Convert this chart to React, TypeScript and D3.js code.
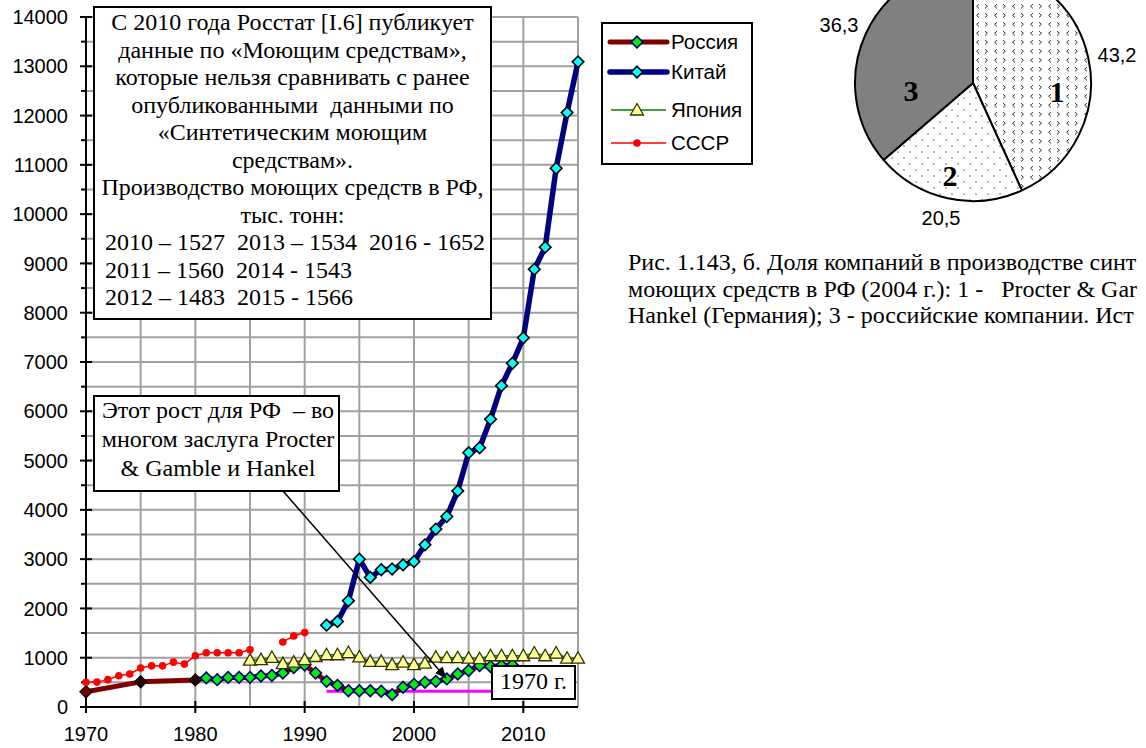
import React from 'react';
import * as d3 from 'd3';

const W = 1146;
const H = 748;

// ---- data ----
const russiaEarlyYears = [1970, 1975, 1980];
const russiaEarlyValues = [310, 510, 550];
const russiaYears = [1981, 1982, 1983, 1984, 1985, 1986, 1987, 1988, 1989, 1990, 1991, 1992, 1993, 1994, 1995, 1996, 1997, 1998, 1999, 2000, 2001, 2002, 2003, 2004, 2005, 2006, 2007, 2008, 2009];
const russiaValues = [590, 555, 600, 600, 600, 630, 640, 690, 800, 850, 690, 520, 440, 330, 330, 330, 320, 250, 400, 460, 500, 520, 570, 670, 740, 840, 820, 840, 850];
const chinaYears = [1992, 1993, 1994, 1995, 1996, 1997, 1998, 1999, 2000, 2001, 2002, 2003, 2004, 2005, 2006, 2007, 2008, 2009, 2010, 2011, 2012, 2013, 2014, 2015];
const chinaValues = [1660, 1735, 2155, 3000, 2630, 2785, 2800, 2885, 2950, 3290, 3610, 3865, 4385, 5160, 5260, 5840, 6520, 6975, 7490, 8880, 9330, 10930, 12060, 13090];
const japanYears = [1985, 1986, 1987, 1988, 1989, 1990, 1991, 1992, 1993, 1994, 1995, 1996, 1997, 1998, 1999, 2000, 2001, 2002, 2003, 2004, 2005, 2006, 2007, 2008, 2009, 2010, 2011, 2012, 2013, 2014, 2015];
const japanValues = [950, 960, 1005, 880, 910, 960, 1025, 1060, 1060, 1105, 1015, 925, 925, 860, 910, 860, 890, 1010, 1000, 1000, 990, 980, 1040, 1040, 1040, 1040, 1095, 1040, 1095, 990, 990];
const ussrYears = [1970, 1971, 1972, 1973, 1974, 1975, 1976, 1977, 1978, 1979, 1980, 1981, 1982, 1983, 1984, 1985, 1986, 1987, 1988, 1989, 1990];
const ussrValues: (number | null)[] = [500, 505, 555, 635, 670, 790, 835, 835, 910, 870, 1040, 1100, 1100, 1100, 1100, 1160, null, null, 1320, 1440, 1510];
const refYears = [1992, 2009];
const refValues = [320, 320];

const xTickValues = [1970, 1980, 1990, 2000, 2010];
const yTickValues = [0, 1000, 2000, 3000, 4000, 5000, 6000, 7000, 8000, 9000, 10000, 11000, 12000, 13000, 14000];
const legendNames = ['Россия', 'Китай', 'Япония', 'СССР'];

const pieNames = ['1', '2', '3'];
const pieValues = [43.2, 20.5, 36.3];
const pieValueLabels = ['43,2', '20,5', '36,3'];

const noteLines = [
  'С 2010 года Росстат [I.6] публикует',
  'данные по «Моющим средствам»,',
  'которые нельзя сравнивать с ранее',
  'опубликованными  данными по',
  '«Синтетическим моющим',
  'средствам».',
  'Производство моющих средств в РФ,',
  'тыс. тонн:',
];
const noteTableLines = [
  '2010 – 1527  2013 – 1534  2016 - 1652',
  '2011 – 1560  2014 - 1543',
  '2012 – 1483  2015 - 1566',
];
const growthLines = ['Этот рост для РФ  – во', 'многом заслуга Procter', '& Gamble и Hankel'];
const refLabel = '1970 г.';
const captionLines = [
  'Рис. 1.143, б. Доля компаний в производстве синт',
  'моющих средств в РФ (2004 г.): 1 -   Procter & Gar',
  'Hankel (Германия); 3 - российские компании. Ист',
];

const SANS = '"Liberation Sans", Arial, sans-serif';
const SERIF = '"Liberation Serif", "Times New Roman", serif';

const diamond = (s: number) => `M0,${-s}L${s},0L0,${s}L${-s},0Z`;
const triangle = 'M0,-6.5L6.5,5L-6.5,5Z';

export default function App() {
  const x = d3.scaleLinear().domain([1970, 2015]).range([86, 578]);
  const y = d3.scaleLinear().domain([0, 14000]).range([707, 17]);

  const vGrid = d3.range(1975, 2016, 5);
  const hGrid = d3.range(500, 14001, 500);

  const lineGen = d3
    .line<[number, number | null]>()
    .defined((d) => d[1] !== null)
    .x((d) => x(d[0]))
    .y((d) => y(d[1] as number));

  const russiaAllYears = [...russiaEarlyYears, ...russiaYears];
  const russiaAllValues = [...russiaEarlyValues, ...russiaValues];
  const zip = (a: number[], b: (number | null)[]) => a.map((v, i) => [v, b[i]] as [number, number | null]);

  const pie = d3.pie<number>().sort(null).value((d) => d)(pieValues);
  const pcx = 973;
  const pcy = 83;
  const pr = 118;
  const arc = d3.arc<d3.PieArcDatum<number>>().innerRadius(0).outerRadius(pr);
  const pieFills = ['url(#chev)', 'url(#dots)', '#808080'];
  const pieNamePos = [
    [1057, 102],
    [950, 186],
    [911, 101],
  ];
  const pieValuePos = [
    [1117, 62],
    [941, 225],
    [839, 32],
  ];

  return (
    <svg width={W} height={H} style={{ position: 'absolute', left: 0, top: 0, background: '#fff' }}>
      <defs>
        <pattern id="chev" width="18" height="9" patternUnits="userSpaceOnUse">
          <rect width="18" height="9" fill="#fff" />
          <path d="M6,2.2L3.6,4.3L6,6.4" fill="none" stroke="#333" strokeWidth="1" />
          <path d="M12,2.2L14.4,4.3L12,6.4" fill="none" stroke="#333" strokeWidth="1" />
        </pattern>
        <pattern id="dots" width="12" height="12" patternUnits="userSpaceOnUse">
          <rect width="12" height="12" fill="#fff" />
          <circle cx="3" cy="3" r="0.9" fill="#999" />
          <circle cx="9" cy="9" r="0.9" fill="#999" />
        </pattern>
        <marker id="arrowHead" viewBox="0 0 12 10" refX="11" refY="5" markerWidth="12" markerHeight="10" markerUnits="userSpaceOnUse" orient="auto">
          <path d="M0,0L12,5L0,10Z" fill="#000" />
        </marker>
      </defs>

      {/* grid */}
      <g stroke="#a0a0a0" strokeWidth={2}>
        {vGrid.map((v) => (
          <line key={'v' + v} x1={x(v)} x2={x(v)} y1={y(0)} y2={y(14000)} />
        ))}
        {hGrid.map((v) => (
          <line key={'h' + v} x1={x(1970)} x2={x(2015)} y1={y(v)} y2={y(v)} />
        ))}
      </g>

      {/* axes */}
      <g stroke="#000" strokeWidth={2}>
        <line x1={x(1970)} x2={x(1970)} y1={y(14000)} y2={y(0) + 1} />
        <line x1={x(1970) - 1} x2={x(2015)} y1={y(0)} y2={y(0)} />
        {yTickValues.map((v) => (
          <line key={'yt' + v} x1={x(1970) - 6} x2={x(1970) + 6} y1={y(v)} y2={y(v)} />
        ))}
        {yTickValues.slice(0, -1).map((v) => (
          <line key={'ym' + v} x1={x(1970) - 5} x2={x(1970)} y1={y(v + 500)} y2={y(v + 500)} />
        ))}
        {xTickValues.map((v) => (
          <line key={'xt' + v} x1={x(v)} x2={x(v)} y1={y(0) - 6} y2={y(0) + 6} />
        ))}
      </g>
      <g fontFamily={SANS} fontSize={20} fill="#000">
        {yTickValues.map((v) => (
          <text key={'yl' + v} x={68} y={y(v)} dy="0.36em" textAnchor="end">
            {v}
          </text>
        ))}
        {xTickValues.map((v) => (
          <text key={'xl' + v} x={x(v)} y={741} textAnchor="middle">
            {v}
          </text>
        ))}
      </g>

      {/* reference line */}
      <path d={lineGen(zip(refYears, refValues)) || ''} fill="none" stroke="#ff00ff" strokeWidth={3} />

      {/* Russia */}
      <path d={lineGen(zip(russiaAllYears, russiaAllValues)) || ''} fill="none" stroke="#800000" strokeWidth={5} strokeLinejoin="round" />
      {russiaEarlyYears.map((yr, i) => (
        <path key={'re' + yr} d={diamond(6)} transform={`translate(${x(yr)},${y(russiaEarlyValues[i])})`} fill={i === 0 ? '#800000' : '#2a0000'} stroke="#000" strokeWidth={1.3} />
      ))}
      {russiaYears.map((yr, i) => (
        <path key={'r' + yr} d={diamond(5.8)} transform={`translate(${x(yr)},${y(russiaValues[i])})`} fill="#00ee00" stroke="#000080" strokeWidth={1.6} />
      ))}

      {/* Japan */}
      <path d={lineGen(zip(japanYears, japanValues)) || ''} fill="none" stroke="#008000" strokeWidth={1.5} />
      {japanYears.map((yr, i) => (
        <path key={'j' + yr} d={triangle} transform={`translate(${x(yr)},${y(japanValues[i])})`} fill="#ffff99" stroke="#333300" strokeWidth={1.3} />
      ))}

      {/* USSR */}
      <path d={lineGen(zip(ussrYears, ussrValues)) || ''} fill="none" stroke="#ff0000" strokeWidth={1.5} />
      {ussrYears.map((yr, i) =>
        ussrValues[i] === null ? null : <circle key={'u' + yr} cx={x(yr)} cy={y(ussrValues[i] as number)} r={3.8} fill="#ff0000" />
      )}

      {/* China */}
      <path d={lineGen(zip(chinaYears, chinaValues)) || ''} fill="none" stroke="#000080" strokeWidth={5.5} strokeLinejoin="round" />
      {chinaYears.map((yr, i) => (
        <path key={'c' + yr} d={diamond(5.8)} transform={`translate(${x(yr)},${y(chinaValues[i])})`} fill="#00ffff" stroke="#000" strokeWidth={1.6} />
      ))}

      {/* note box */}
      <rect x={94} y={7} width={397} height={312} fill="#fff" stroke="#000" strokeWidth={2} />
      <g fontFamily={SERIF} fontSize={24} fill="#000">
        {noteLines.map((t, i) => (
          <text key={'n' + i} x={292.5} y={30 + 27.5 * i} textAnchor="middle" style={{ whiteSpace: 'pre' }}>
            {t}
          </text>
        ))}
        {noteTableLines.map((t, i) => (
          <text key={'nt' + i} x={105} y={30 + 27.5 * (i + noteLines.length)} style={{ whiteSpace: 'pre' }}>
            {t}
          </text>
        ))}
      </g>

      {/* growth box */}
      <rect x={94} y={396} width={245} height={95} fill="#fff" stroke="#000" strokeWidth={2} />
      <g fontFamily={SERIF} fontSize={24} fill="#000">
        {growthLines.map((t, i) => (
          <text key={'g' + i} x={218} y={418 + 29 * i} textAnchor="middle" style={{ whiteSpace: 'pre' }}>
            {t}
          </text>
        ))}
      </g>
      <line x1={283} y1={491} x2={446} y2={678} stroke="#000" strokeWidth={1.5} markerEnd="url(#arrowHead)" />

      {/* 1970 box */}
      <rect x={492} y={666} width={83} height={33} fill="#fff" stroke="#000" strokeWidth={2} />
      <text x={533.5} y={689} textAnchor="middle" fontFamily={SERIF} fontSize={24}>
        {refLabel}
      </text>

      {/* legend */}
      <rect x={602} y={23} width={150} height={141} fill="#fff" stroke="#000" strokeWidth={2} />
      {legendNames.map((name, i) => {
        const ly = [42, 72, 110, 143][i];
        return (
          <g key={'lg' + i}>
            {i === 0 && <line x1={610} x2={667} y1={ly} y2={ly} stroke="#800000" strokeWidth={5} strokeLinecap="round" />}
            {i === 1 && <line x1={610} x2={667} y1={ly} y2={ly} stroke="#000080" strokeWidth={5.5} strokeLinecap="round" />}
            {i === 2 && <line x1={611} x2={666} y1={ly} y2={ly} stroke="#008000" strokeWidth={1.5} />}
            {i === 3 && <line x1={611} x2={666} y1={ly} y2={ly} stroke="#ff0000" strokeWidth={1.5} />}
            {i === 0 && <path d={diamond(5.8)} transform={`translate(637,${ly})`} fill="#00ee00" stroke="#000080" strokeWidth={1.6} />}
            {i === 1 && <path d={diamond(5.8)} transform={`translate(637,${ly})`} fill="#00ffff" stroke="#000" strokeWidth={1.6} />}
            {i === 2 && <path d={triangle} transform={`translate(637,${ly})`} fill="#ffff99" stroke="#333300" strokeWidth={1.3} />}
            {i === 3 && <circle cx={637} cy={ly} r={3.8} fill="#ff0000" />}
            <text x={671} y={ly} dy="0.36em" fontFamily={SANS} fontSize={20.5}>
              {name}
            </text>
          </g>
        );
      })}

      {/* pie */}
      <g transform={`translate(${pcx},${pcy})`}>
        {pie.map((d, i) => (
          <path key={'p' + i} d={arc(d) || ''} fill={pieFills[i]} stroke="#000" strokeWidth={2} strokeLinejoin="round" />
        ))}
      </g>
      <g fontFamily={SERIF} fontSize={30} fontWeight="bold">
        {pieNames.map((n, i) => (
          <text key={'pn' + i} x={pieNamePos[i][0]} y={pieNamePos[i][1]} textAnchor="middle">
            {n}
          </text>
        ))}
      </g>
      <g fontFamily={SANS} fontSize={20}>
        {pieValueLabels.map((n, i) => (
          <text key={'pv' + i} x={pieValuePos[i][0]} y={pieValuePos[i][1]} textAnchor="middle">
            {n}
          </text>
        ))}
      </g>

      {/* caption */}
      <g fontFamily={SERIF} fontSize={24}>
        {captionLines.map((t, i) => (
          <text key={'cap' + i} x={628} y={270 + 26.5 * i} style={{ whiteSpace: 'pre' }}>
            {t}
          </text>
        ))}
      </g>
    </svg>
  );
}
